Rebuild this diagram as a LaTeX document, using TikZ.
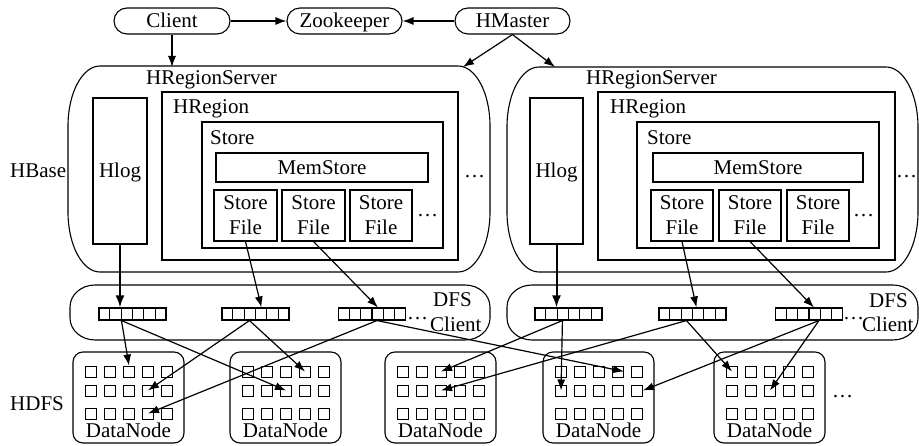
\documentclass[tikz,border=0pt]{standalone}
\usepackage{fontspec}
\setmainfont{Liberation Serif}
\usetikzlibrary{arrows.meta,calc}
\newcommand{\ovalbox}[6]{%
 \draw[line width=1.1pt] ({#1+#5},#2) -- ({#3-#5},#2) .. controls ({#3-0.448*#5},#2) and (#3,{#2+0.448*#6}) .. (#3,{#2+#6})
  -- (#3,{#4-#6}) .. controls (#3,{#4-0.448*#6}) and ({#3-0.448*#5},#4) .. ({#3-#5},#4)
  -- ({#1+#5},#4) .. controls ({#1+0.448*#5},#4) and (#1,{#4-0.448*#6}) .. (#1,{#4-#6})
  -- (#1,{#2+#6}) .. controls (#1,{#2+0.448*#6}) and ({#1+0.448*#5},#2) .. cycle;}
\newcommand{\rnode}[6]{\node[box, minimum width={(#4-#2)*1pt}, minimum height={(#5-#3)*1pt}] (#1) at ({(#2+#4)/2},{(#3+#5)/2}) {#6};}
\begin{document}
\begin{tikzpicture}[x=1pt,y=-1pt,
  font=\fontsize{21}{25}\selectfont,
  box/.style={draw, line width=1.1pt, inner sep=0pt, rectangle, align=center},
  lbl/.style={inner sep=0pt, anchor=base west},
  pill/.style={draw, line width=1.1pt, rounded corners=13pt, inner sep=0pt, minimum height=26pt},
  arr/.style={-{Latex[length=11pt,width=8pt]}, line width=1.2pt},
  thickarr/.style={-{Latex[length=12pt,width=9pt]}, line width=2pt},
  sq/.style={draw, line width=0.9pt, minimum size=11pt, inner sep=0pt},
]
\useasboundingbox (0,0) rectangle (919,446);

% top nodes
\node[pill, minimum width=116pt] (client) at (172,21) {};
\node[inner sep=0pt, anchor=base] (clientl) at (172,28) {Client};
\node[pill, minimum width=115pt] (zk) at (344.5,21) {};
\node[inner sep=0pt, anchor=base] (zkl) at (344.5,28) {Zookeeper};
\node[pill, minimum width=115pt] (hm) at (512.5,21) {};
\node[inner sep=0pt, anchor=base] (hml) at (512.5,28) {HMaster};

% servers
\node[minimum width=422pt, minimum height=206pt, inner sep=0pt] (srv1) at (279,169) {};
\node[minimum width=411pt, minimum height=205pt, inner sep=0pt] (srv2) at (712.5,169.5) {};
\ovalbox{68}{66}{490}{272}{32}{60}
\ovalbox{507}{67}{918}{272}{32}{60}
\coordinate (s1in) at (463,67);
\coordinate (s2in) at (555,67);

\node[lbl] (hbase) at (10,178) {HBase};
\node[lbl] (hdfs) at (10,410) {HDFS};

% left server
\node[lbl] (hrs1) at (146,85) {HRegionServer};
\rnode{hl1}{93}{98}{147}{244}{}
\node[inner sep=0pt, anchor=base] (hl1l) at (120,178) {Hlog};
\rnode{hr1}{162}{92}{458}{260}{}
\node[lbl] (hr1l) at (173,114) {HRegion};
\rnode{st1}{202}{122}{443}{248}{}
\node[lbl] (st1l) at (210,145) {Store};
\rnode{ms1}{216}{153}{428}{182}{MemStore}
\rnode{sf1}{214}{190}{277}{241}{Store\\File}
\rnode{sf2}{282}{190}{345}{241}{Store\\File}
\rnode{sf3}{350}{190}{412}{241}{Store\\File}
\node[lbl] (d1) at (417,217) {\ldots};
\node[lbl] (d2) at (464,178) {\ldots};

% right server
\node[lbl] (hrs2) at (586,85) {HRegionServer};
\rnode{hl2}{530}{98}{583}{244}{}
\node[inner sep=0pt, anchor=base] (hl2l) at (556.5,178) {Hlog};
\rnode{hr2}{598}{92}{895}{260}{}
\node[lbl] (hr2l) at (610,114) {HRegion};
\rnode{st2}{637}{122}{879}{248}{}
\node[lbl] (st2l) at (647,145) {Store};
\rnode{ms2}{653}{153}{863}{182}{MemStore}
\rnode{rsf1}{651}{190}{713}{241}{Store\\File}
\rnode{rsf2}{719}{190}{781}{241}{Store\\File}
\rnode{rsf3}{787}{190}{849}{241}{Store\\File}
\node[lbl] (d3) at (853,217) {\ldots};
\node[lbl] (d4) at (896,178) {\ldots};

% DFS clients
\node[minimum width=420pt, minimum height=55pt, inner sep=0pt] (dfs1) at (280,312.5) {};
\node[minimum width=411pt, minimum height=55pt, inner sep=0pt] (dfs2) at (712.5,312.5) {};
\ovalbox{70}{285}{490}{340}{25}{22}
\ovalbox{507}{285}{918}{340}{25}{22}
\node[lbl] (dfs1a) at (433,307) {DFS};
\node[lbl] (dfs1b) at (430,332) {Client};
\node[lbl] (dfs2a) at (869,308) {DFS};
\node[lbl] (dfs2b) at (862,332) {Client};
\node[lbl] (d5) at (407,320) {\ldots};
\node[lbl] (d6) at (843,320) {\ldots};

\foreach \n/\x in {a1/132.5, a2/255.5, a3/372, ra1/568.5, ra2/692.5, ra3/809} {
  \node[box, minimum width=67pt, minimum height=12pt] (\n) at (\x,314) {};
  \foreach \i in {1,...,5}
    \draw[line width=1.1pt] ($(\n.north west)!\i/6!(\n.north east)$) -- ($(\n.south west)!\i/6!(\n.south east)$);
}

% DataNodes
\foreach \k/\x in {1/73,2/230,3/385,4/543,5/714} {
  \node[box, rounded corners=10pt, minimum width=111pt, minimum height=91pt] (dn\k) at ({\x+55.5},397.5) {};
  \node[inner sep=0pt, anchor=base] (dnl\k) at ({\x+55.5},437) {DataNode};
  \foreach \r/\ry in {1/371.5,2/390.5,3/413.5}
    \foreach \c in {1,...,5}
      \node[sq] (q\k-\r-\c) at ({\x+18+19*(\c-1)},\ry) {};
}
\node[lbl] (d7) at (832,398) {\ldots};

% top arrows
\draw[arr] (client.east) -- (zk.west);
\draw[arr] (hm.west) -- (zk.east);
\draw[arr] (client.south) -- (client.south |- s1in);
\draw[arr] (hm.south) -- (s1in);
\draw[arr] (hm.south) -- (s2in);

% to DFS arrays
\draw[thickarr] (hl1.south) -- (hl1.south |- a1.north);
\draw[arr] (sf1.south) -- ($(a2.north west)+(40,0)$);
\draw[arr] (sf2.south) -- ($(a3.north west)+(40,0)$);
\draw[thickarr] (hl2.south) -- (hl2.south |- ra1.north);
\draw[arr] (rsf1.south) -- ($(ra2.north west)+(38,0)$);
\draw[arr] (rsf2.south) -- ($(ra3.north west)+(39,0)$);

% array out points
\coordinate (a1o) at ($(a1.south west)+(23,0)$);
\coordinate (a2o) at ($(a2.south west)+(28,0)$);
\coordinate (a3o) at ($(a3.south west)+(39,0)$);
\coordinate (ra1o) at ($(ra1.south west)+(28,0)$);
\coordinate (ra2o) at ($(ra2.south west)+(28,0)$);
\coordinate (ra3o) at ($(ra3.south west)+(44,0)$);

\draw[arr] (a1o) -- (q1-1-3.north);
\draw[arr] (a1o) -- (q2-2-3.center);
\draw[arr] (a2o) -- (q1-2-4.center);
\draw[arr] (a2o) -- (q2-1-4.center);
\draw[arr] (a3o) -- (q1-3-4.center);
\draw[arr] (a3o) -- (q4-1-4.east);
\draw[arr] (ra1o) -- (q3-1-3.center);
\draw[arr] (ra1o) -- (q4-2-1.center);
\draw[arr] (ra2o) -- (q3-2-3.center);
\draw[arr] (ra2o) -- (q5-1-1.center);
\draw[arr] (ra3o) -- (q4-2-5.east);
\draw[arr] (ra3o) -- (q5-2-3.center);
\end{tikzpicture}
\end{document}
